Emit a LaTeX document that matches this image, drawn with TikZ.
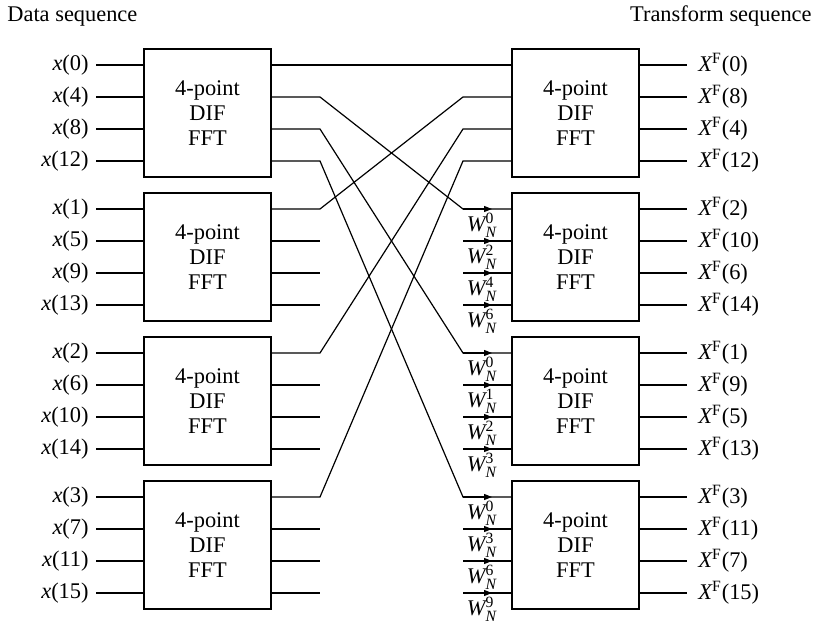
\documentclass[tikz,border=0pt]{standalone}
\usepackage{fontspec}
\usepackage{amsmath}
\setmainfont{Liberation Serif}
\usetikzlibrary{arrows.meta,positioning}
\tikzset{
  wire/.style={line width=0.6pt},
  fftbox/.style={draw,line width=0.7pt,minimum width=63.5pt,minimum height=64pt,
    inner sep=0pt,align=center,font=\fontsize{11.2}{12.5}\selectfont},
  seq/.style={inner sep=0pt,font=\fontsize{11.2}{13}\selectfont},
  twid/.style={inner sep=0pt,font=\fontsize{11.2}{13}\selectfont},
  tw/.style={-{Triangle[length=4pt,width=3pt]},line width=0.6pt},
}

\begin{document}
\begin{tikzpicture}[x=0.5pt,y=-0.5pt]
  \useasboundingbox (0,0) rectangle (816,624);
  \node[seq,anchor=base west] (dtitle) at (7,22) {Data sequence};
  \node[seq,anchor=base east] (ttitle) at (812,22) {Transform sequence};
  % the eight 4-point blocks with their ports
  \foreach \b/\outs in {0/{0,8,4,12},1/{2,10,6,14},2/{1,9,5,13},3/{3,11,7,15}}{
    \node[fftbox] (L\b) at (207.5,113+144*\b) {4-point\\DIF\\FFT};
    \node[fftbox] (R\b) at (575.5,113+144*\b) {4-point\\DIF\\FFT};
    \foreach \v [count=\k from 0] in \outs{
      \pgfmathtruncatemacro{\idx}{\b+4*\k}
      \coordinate (li\b\k) at (96,65+144*\b+32*\k);
      \coordinate (lo\b\k) at (320,65+144*\b+32*\k);
      \coordinate (ri\b\k) at (463,65+144*\b+32*\k);
      \coordinate (ro\b\k) at (687,65+144*\b+32*\k);
      \node[seq,left=3.5pt of li\b\k] (x\b\k) {\textit{x}(\idx)};
      \node[seq,right=5.5pt of ro\b\k] (X\b\k) {$\textit{X}^{\text{F}}$(\v)};
      \draw[wire] (li\b\k) -- (li\b\k -| L\b.west);
      \draw[wire] (ro\b\k -| R\b.east) -- (ro\b\k);
    }
  }
  % crossing connections
  \foreach \j in {0,...,3}
    \draw[wire] (lo0\j -| L0.east) -- (lo0\j) -- (ri\j0) -- (ri\j0 -| R\j.west);
  \foreach \k in {1,2,3}
    \draw[wire] (lo\k0 -| L\k.east) -- (lo\k0) -- (ri0\k) -- (ri0\k -| R0.west);
  % open ends
  \foreach \b in {1,2,3}
    \foreach \k in {1,2,3}{
      \draw[wire] (lo\b\k -| L\b.east) -- (lo\b\k);
      \draw[wire] (ri\b\k) -- (ri\b\k -| R\b.west);
    }
  % twiddle factors
  \foreach \b/\m in {1/2,2/1,3/3}
    \foreach \k in {0,...,3}{
      \pgfmathtruncatemacro{\e}{\m*\k}
      \draw[tw] (ri\b\k) -- ++(29,0);
      \node[twid] (w\b\k) at ([xshift=9.5pt,yshift=-8pt]ri\b\k) {$\textit{W}_{\textit{N}}^{\text{\e}}$};
    }
\end{tikzpicture}
\end{document}
